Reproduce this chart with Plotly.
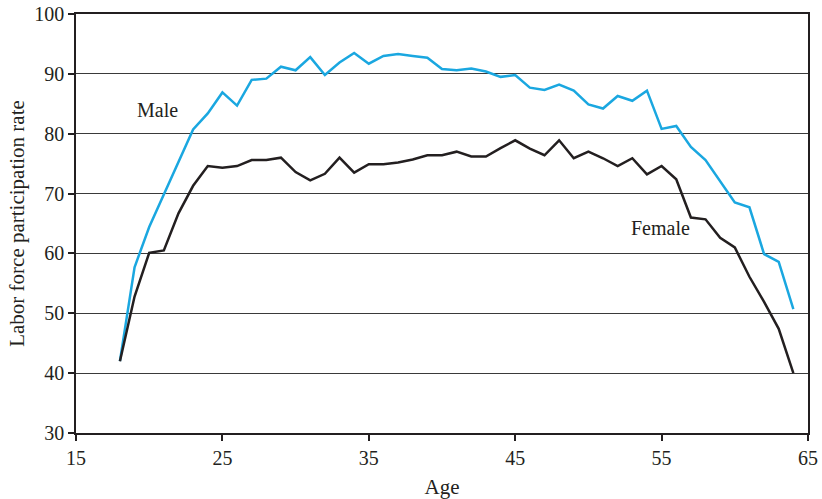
import plotly.graph_objects as go

ages = list(range(18, 65))
male = [42.0, 57.7, 64.4, 69.8, 75.0, 80.7, 83.4, 86.9, 84.7, 89.0,
        89.2, 91.2, 90.6, 92.8, 89.8, 91.9, 93.5, 91.7, 93.0, 93.3,
        93.0, 92.7, 90.8, 90.6, 90.9, 90.4, 89.5, 89.8, 87.7, 87.3,
        88.2, 87.2, 84.9, 84.2, 86.3, 85.5, 87.2, 80.8, 81.3, 77.8,
        75.6, 72.0, 68.5, 67.7, 59.9, 58.6, 50.7]
female = [42.0, 52.8, 60.1, 60.5, 66.7, 71.3, 74.6, 74.3, 74.6, 75.6,
          75.6, 76.0, 73.6, 72.2, 73.3, 76.0, 73.5, 74.9, 74.9, 75.2,
          75.7, 76.4, 76.4, 77.0, 76.2, 76.2, 77.6, 78.9, 77.5, 76.4,
          78.9, 75.9, 77.0, 75.9, 74.6, 75.9, 73.2, 74.6, 72.4, 66.0,
          65.7, 62.6, 61.0, 56.1, 51.9, 47.4, 40.0]
x_ticks = [15, 25, 35, 45, 55, 65]
y_ticks = [30, 40, 50, 60, 70, 80, 90, 100]

font = "Liberation Serif, Times New Roman, serif"
fig = go.Figure()
fig.add_trace(go.Scatter(x=ages, y=male, mode="lines", name="Male",
                         line=dict(color="#1AA7E0", width=2.5)))
fig.add_trace(go.Scatter(x=ages, y=female, mode="lines", name="Female",
                         line=dict(color="#231F20", width=2.5)))

fig.add_annotation(x=20.55, y=84.0, text="Male", showarrow=False,
                   font=dict(family=font, size=20, color="#231F20"))
fig.add_annotation(x=54.95, y=64.2, text="Female", showarrow=False,
                   font=dict(family=font, size=20, color="#231F20"))

fig.update_layout(
    width=822, height=499,
    margin=dict(l=76, r=14, t=14, b=66),
    plot_bgcolor="white", paper_bgcolor="white",
    showlegend=False,
    font=dict(family=font, size=20, color="#231F20"),
)
fig.update_xaxes(range=[15, 65], tickvals=x_ticks, showgrid=False, zeroline=False,
                 automargin=False, ticklabeloverflow="allow",
                 showline=True, linecolor="#231F20", linewidth=1.5, mirror=True,
                 ticks="outside", ticklen=6, tickwidth=1.5, tickcolor="#231F20",
                 tickfont=dict(size=20),
                 title=dict(text="Age", font=dict(size=21), standoff=12))
fig.update_yaxes(range=[30, 100], tickvals=y_ticks, showgrid=True, gridcolor="#3a3a3a",
                 gridwidth=1, zeroline=False, automargin=False, ticklabeloverflow="allow",
                 showline=True, linecolor="#231F20", linewidth=1.5, mirror=True,
                 ticks="outside", ticklen=6, tickwidth=1.5, tickcolor="#231F20",
                 tickfont=dict(size=20),
                 title=dict(text="Labor force participation rate", font=dict(size=21), standoff=4))

fig.write_html("out.html", config={"displayModeBar": False},
               post_script="document.body.style.margin='0';document.body.style.overflow='hidden';")
